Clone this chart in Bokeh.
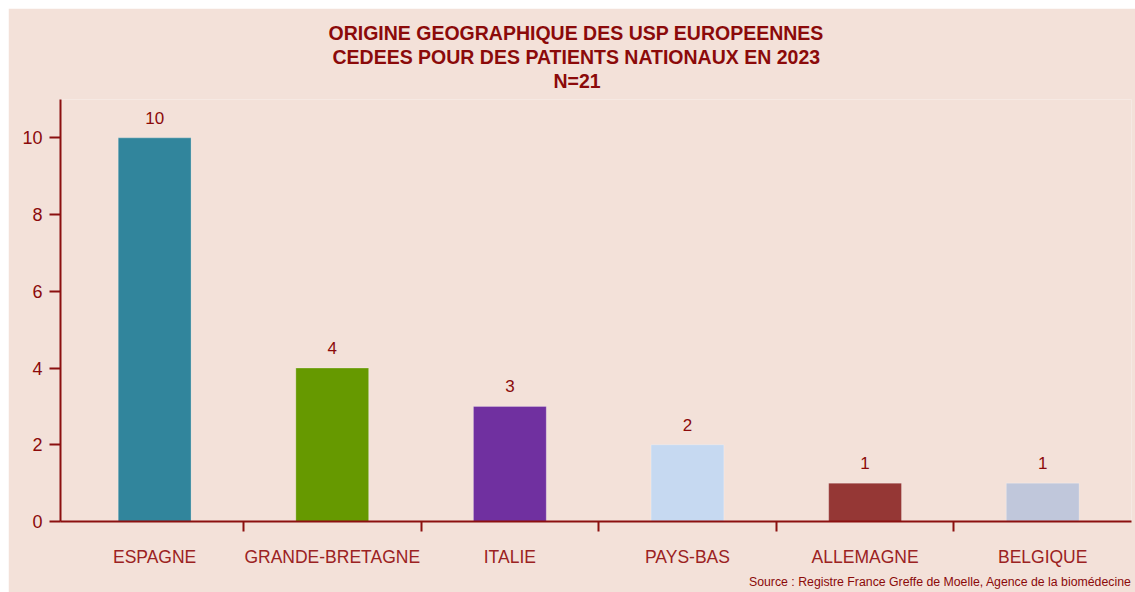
from bokeh.plotting import figure
from bokeh.models import (ColumnDataSource, Range1d, FixedTicker, LabelSet, Title, Spacer)
from bokeh.layouts import row, column
from bokeh.core.properties import value
from bokeh.embed import file_html
from bokeh.resources import INLINE

categories = ["ESPAGNE", "GRANDE-BRETAGNE", "ITALIE", "PAYS-BAS", "ALLEMAGNE", "BELGIQUE"]
values = [10, 4, 3, 2, 1, 1]
colors = ["#31859C", "#669900", "#7030A0", "#C6D9F1", "#953735", "#C0C7DB"]
title_lines = ["ORIGINE GEOGRAPHIQUE DES USP EUROPEENNES",
               "CEDEES POUR DES PATIENTS NATIONAUX EN 2023",
               "N=21"]
source_text = "Source : Registre France Greffe de Moelle, Agence de la biomédecine"
y_ticks = [0, 2, 4, 6, 8, 10]

BG = "#F3E1D9"
AXIS = "#8B1010"
DARK = "#8B0A0A"
FONT = "Liberation Sans"

n = len(categories)
centers = [i + 0.5 for i in range(n)]
bounds = [i for i in range(1, n)]

src = ColumnDataSource(dict(x=centers, top=values, color=colors,
                            label=[str(v) for v in values]))

p = figure(width=1127, height=584, output_backend="svg", toolbar_location=None,
           x_range=Range1d(-0.03, 6.0), y_range=Range1d(0, 11),
           min_border_left=52, min_border_right=4, min_border_top=91,
           min_border_bottom=69)
p.background_fill_color = BG
p.border_fill_color = BG
p.outline_line_color = None
p.xgrid.visible = False
p.ygrid.visible = False

p.vbar(x="x", top="top", bottom=0, width=0.41, color="color", source=src,
       line_color="white", line_alpha=0.25, line_width=1)

labels = LabelSet(x="x", y="top", text="label", source=src, y_offset=14,
                  text_align="center", text_baseline="alphabetic",
                  text_font=value(FONT), text_font_size="17px", text_color=DARK)
p.add_layout(labels)

# x axis
xa = p.xaxis[0]
xa.ticker = FixedTicker(ticks=centers, minor_ticks=bounds)
xa.major_label_overrides = {c: cat for c, cat in zip(centers, categories)}
xa.major_tick_out = 0
xa.major_tick_in = 0
xa.minor_tick_out = 10
xa.minor_tick_in = 0
xa.minor_tick_line_color = AXIS
xa.minor_tick_line_width = 2
xa.axis_line_color = AXIS
xa.axis_line_width = 2
xa.major_label_standoff = 15
xa.major_label_text_font = FONT
xa.major_label_text_font_size = "17.5px"
xa.major_label_text_color = "#9B2222"

# y axis
ya = p.yaxis[0]
ya.ticker = FixedTicker(ticks=y_ticks)
ya.major_tick_out = 11
ya.major_tick_in = 0
ya.minor_tick_line_color = None
ya.major_tick_line_color = AXIS
ya.major_tick_line_width = 2
ya.axis_line_color = AXIS
ya.axis_line_width = 2
ya.major_label_standoff = 7
ya.major_label_text_font = FONT
ya.major_label_text_font_size = "18px"
ya.major_label_text_color = DARK

# small empty gap between the frame and the title block
p.add_layout(Title(text=" ", text_font_size="6px", standoff=0), "above")

# title lines (first added is closest to the frame); left-aligned with offsets
# chosen so that each line is centred at the same x as in the reference
title_offsets = [268, 272, 493]
for txt, off in reversed(list(zip(title_lines, title_offsets))):
    p.add_layout(Title(text=txt, align="left", offset=off, standoff=0,
                       text_font=FONT, text_font_size="19.5px",
                       text_font_style="bold", text_color=DARK), "above")

p.add_layout(Title(text=source_text, align="right", offset=0, standoff=7,
                   text_font=FONT, text_font_size="12.3px",
                   text_font_style="normal", text_color=DARK), "below")

layout = column(Spacer(height=8), row(Spacer(width=8), p))
layout.background = "white"
open("out.html", "w").write(file_html(layout, INLINE))
